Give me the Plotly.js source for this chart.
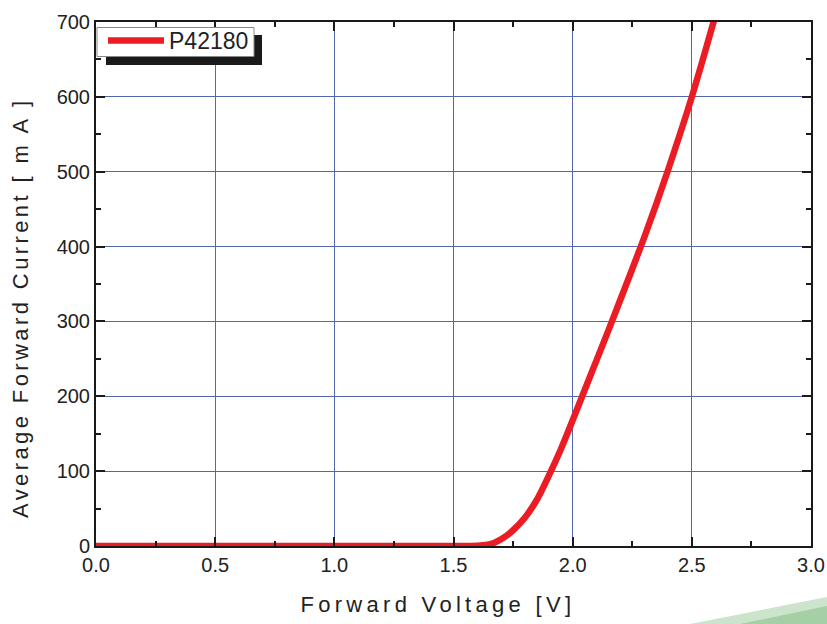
<!DOCTYPE html>
<html>
<head>
<meta charset="utf-8">
<script src="https://cdn.plot.ly/plotly-3.0.1.min.js"></script>
<style>body{margin:0;background:#fff}#chart{width:827px;height:624px}</style>
</head>
<body>
<div id="chart"></div>
<script>
// Forward voltage [V]
const voltage = [0, 0.5, 1.0, 1.5, 1.6, 1.65, 1.70, 1.75, 1.80, 1.85, 1.90, 1.95, 2.00, 2.05, 2.10, 2.15, 2.20, 2.25, 2.30, 2.35, 2.40, 2.45, 2.50, 2.55, 2.60];
// Average forward current [mA]
const current = [0, 0, 0, 0, 0.5, 2, 9, 21, 38, 62, 94, 129, 168, 208, 248, 288, 329, 370, 412, 456, 502, 550, 600, 654, 710];
const seriesName = 'P42180';
const xTicks = [0, 0.5, 1.0, 1.5, 2.0, 2.5, 3.0];
const xTickText = ['0.0', '0.5', '1.0', '1.5', '2.0', '2.5', '3.0'];
const yTicks = [0, 100, 200, 300, 400, 500, 600, 700];

const L = 96, R = 811, T = 22, B = 546;
const px = v => (v - L) / (R - L);
const py = v => (B - v) / (B - T);

const gridColor = '#5367b0';
const fontFam = 'Liberation Sans, Arial, sans-serif';
const axisCommon = {
  showline: true, mirror: 'allticks', linecolor: '#1a1a1a', linewidth: 2,
  ticks: 'inside', ticklen: 9, tickwidth: 2, tickcolor: '#1a1a1a',
  showgrid: true, gridcolor: gridColor, gridwidth: 1, zeroline: false,
  tickfont: {family: fontFam, size: 20, color: '#222'},
  minor: {ticks: 'inside', ticklen: 5, tickwidth: 2, tickcolor: '#1a1a1a', showgrid: false}
};

const data = [{
  x: voltage, y: current, name: seriesName, type: 'scatter', mode: 'lines',
  line: {color: '#ec1c24', width: 6.5, shape: 'spline', smoothing: 1}
}];

const nb = n => '&nbsp;'.repeat(n);

const layout = {
  width: 827, height: 624,
  margin: {l: L, r: 827 - R, t: T, b: 624 - B},
  paper_bgcolor: '#fff', plot_bgcolor: '#fff',
  showlegend: true,
  xaxis: Object.assign({}, axisCommon, {
    range: [0, 3.0], tickvals: xTicks, ticktext: xTickText,
    minor: Object.assign({}, axisCommon.minor, {dtick: 0.25, tick0: 0}),
    title: {text: '<span style="letter-spacing:4.3px">Forward Voltage [V]' + nb(3) + '</span>',
      font: {family: fontFam, size: 22, color: '#222'}, standoff: 22}
  }),
  yaxis: Object.assign({}, axisCommon, {
    range: [0, 700], tickvals: yTicks,
    minor: Object.assign({}, axisCommon.minor, {dtick: 50, tick0: 0}),
    title: {text: '<span style="letter-spacing:3.4px">Average Forward Current [ m A ]' + nb(5) + '</span>',
      font: {family: fontFam, size: 22, color: '#222'}, standoff: 22}
  }),
  legend: {
    x: px(103), y: py(19), xanchor: 'left', yanchor: 'top',
    bgcolor: 'rgba(0,0,0,0)', borderwidth: 0,
    font: {family: fontFam, size: 23, color: '#222'},
    tracegroupgap: 0, itemwidth: 56
  },
  shapes: [
    {type: 'rect', xref: 'paper', yref: 'paper', x0: px(106), x1: px(262), y0: py(65), y1: py(35),
      fillcolor: '#1a1a1a', line: {width: 0}, layer: 'above'},
    {type: 'rect', xref: 'paper', yref: 'paper', x0: px(97), x1: px(254), y0: py(56.5), y1: py(27.5),
      fillcolor: '#ffffff', line: {width: 1, color: '#888'}, layer: 'above'},
    {type: 'path', xref: 'paper', yref: 'paper', layer: 'below',
      path: `M ${px(690)} ${py(624)} L ${px(827)} ${py(597)} L ${px(827)} ${py(624)} Z`,
      fillcolor: 'rgba(160,205,160,0.55)', line: {width: 0}},
    {type: 'path', xref: 'paper', yref: 'paper', layer: 'below',
      path: `M ${px(740)} ${py(624)} L ${px(827)} ${py(606)} L ${px(827)} ${py(624)} Z`,
      fillcolor: 'rgba(140,195,140,0.6)', line: {width: 0}}
  ]
};

Plotly.newPlot('chart', data, layout, {displayModeBar: false, staticPlot: true});
</script>
</body>
</html>
